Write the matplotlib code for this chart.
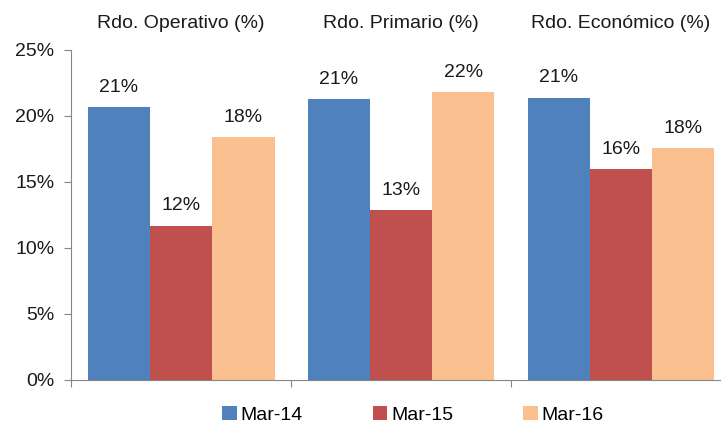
import numpy as np
import matplotlib.pyplot as plt
from matplotlib.ticker import FuncFormatter

plt.rcParams['font.family'] = ['Liberation Sans', 'DejaVu Sans']

categories = ['Rdo. Operativo (%)', 'Rdo. Primario (%)', 'Rdo. Económico (%)']
series = ['Mar-14', 'Mar-15', 'Mar-16']
mar14 = [20.7, 21.3, 21.4]
mar15 = [11.7, 12.9, 16.0]
mar16 = [18.4, 21.8, 17.6]
colors = ['#4F81BD', '#C0504D', '#FAC090']

fig = plt.figure(figsize=(7.21, 4.28), dpi=100)
ax = fig.add_axes([71 / 721, 48 / 428, 660 / 721, 330 / 428])

x = np.arange(len(categories))
w = 0.85 / 3
for i, (vals, lab, c) in enumerate(zip([mar14, mar15, mar16], series, colors)):
    pos = x + (i - 1) * w
    ax.bar(pos, vals, width=w, color=c, label=lab, zorder=2)
    for p, v in zip(pos, vals):
        ax.annotate(f'{v:.0f}%', (p, v), xytext=(0, 8), textcoords='offset points',
                    ha='center', va='bottom', fontsize=14, color='#1a1a1a')

for xi, cat in zip(x, categories):
    ax.text(xi, 1.055, cat, transform=ax.get_xaxis_transform(), ha='center',
            va='bottom', fontsize=14, color='#1a1a1a', clip_on=False)

ax.set_xlim(-0.5, 2.5)
ax.set_ylim(0, 25)
ax.set_yticks(np.arange(0, 26, 5))
ax.yaxis.set_major_formatter(FuncFormatter(lambda v, p: f'{v:.0f}%'))
ax.set_xticks([-0.5, 0.5, 1.5, 2.5])
ax.set_xticklabels([])
for s in ['top', 'right']:
    ax.spines[s].set_visible(False)
for s in ['left', 'bottom']:
    ax.spines[s].set_color('#868686')
ax.tick_params(axis='both', colors='#868686', length=5, labelsize=14,
               labelcolor='#1a1a1a')
ax.tick_params(axis='y', pad=7)

ax.legend(loc='upper center', bbox_to_anchor=(0.5 + 12 / 660, -0.025), ncol=3,
          frameon=False, fontsize=14, handlelength=0.75, handleheight=0.75,
          handletextpad=0.2, columnspacing=3.6)

fig.savefig('out.png', dpi=100)
